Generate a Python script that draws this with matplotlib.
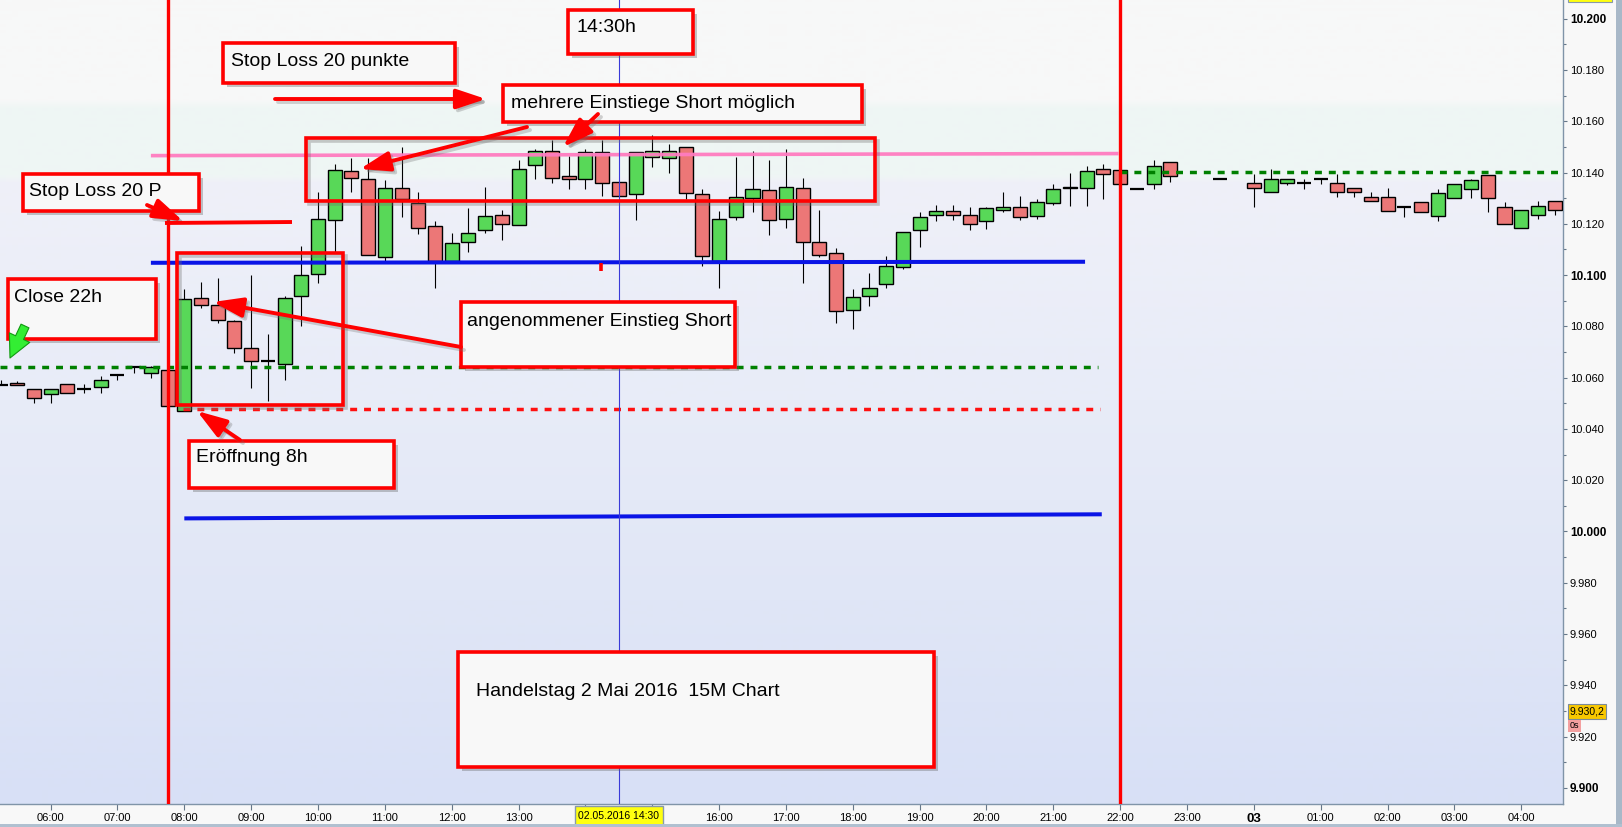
import numpy as np
import matplotlib
matplotlib.use('Agg')
import matplotlib.pyplot as plt
from matplotlib.patches import Rectangle, FancyArrowPatch
from matplotlib.colors import to_rgb
from matplotlib.ticker import FuncFormatter, MultipleLocator

plt.rcParams['font.family'] = ['Liberation Sans', 'DejaVu Sans']

# ---------------- data (15-minute candles, 2./3. May 2016) ----------------
times = ["05:15", "05:30", "05:45", "06:00", "06:15", "06:30", "06:45", "07:00", "07:15", "07:30",
         "07:45", "08:00", "08:15", "08:30", "08:45", "09:00", "09:15", "09:30", "09:45", "10:00",
         "10:15", "10:30", "10:45", "11:00", "11:15", "11:30", "11:45", "12:00", "12:15", "12:30",
         "12:45", "13:00", "13:15", "13:30", "13:45", "14:00", "14:15", "14:30", "14:45", "15:00",
         "15:15", "15:30", "15:45", "16:00", "16:15", "16:30", "16:45", "17:00", "17:15", "17:30",
         "17:45", "18:00", "18:15", "18:30", "18:45", "19:00", "19:15", "19:30", "19:45", "20:00",
         "20:15", "20:30", "20:45", "21:00", "21:15", "21:30", "21:45", "22:00", "22:15", "22:30",
         "22:45", "23:30", "00:00", "00:15", "00:30", "00:45", "01:00", "01:15", "01:30", "01:45",
         "02:00", "02:15", "02:30", "02:45", "03:00", "03:15", "03:30", "03:45", "04:00", "04:15",
         "04:30"]
opens = [10057, 10058, 10055.5, 10053.5, 10057.5, 10055.5, 10056.5, 10061, 10064, 10062,
         10063, 10047, 10091, 10088.5, 10082, 10071.5, 10066.5, 10065.5, 10092, 10100.5,
         10121.5, 10140.5, 10137.5, 10107, 10134, 10128, 10119, 10105.5, 10113, 10117.5,
         10123.5, 10119.5, 10143, 10148.5, 10138.5, 10137.5, 10148, 10136.5, 10131.5, 10146,
         10145.5, 10150, 10131.5, 10105.5, 10122.5, 10130, 10133, 10122, 10134, 10113,
         10108.5, 10086.5, 10092, 10096.5, 10103, 10117.5, 10123.5, 10125, 10123.5, 10121,
         10125.5, 10126.5, 10123, 10128, 10134, 10134, 10141.5, 10141, 10133.5, 10135.5,
         10144, 10137.5, 10136, 10132.5, 10136, 10136, 10137.5, 10136, 10134, 10130.5,
         10130.5, 10126.5, 10128.5, 10123, 10130, 10133.5, 10139, 10126.5, 10118.5, 10123.5,
         10129]
highs = [10059, 10058.5, 10055.5, 10055.5, 10057.5, 10057.5, 10060.5, 10061, 10064, 10064.5,
         10063.5, 10094.5, 10097.5, 10099, 10082.5, 10100, 10077, 10092, 10111.5, 10132.5,
         10143.5, 10145.5, 10145.5, 10137, 10150, 10132.5, 10121, 10116.5, 10126, 10134.5,
         10125.5, 10145, 10149, 10152.5, 10146.5, 10149, 10152.5, 10136.5, 10148, 10154.5,
         10151, 10150, 10133.5, 10125, 10146, 10148.5, 10145, 10149, 10138, 10125.5,
         10110.5, 10094.5, 10101, 10107.5, 10117, 10124.5, 10127.5, 10127.5, 10126.5, 10126.5,
         10132.5, 10131, 10129.5, 10135.5, 10140, 10142.5, 10143.5, 10141, 10133.5, 10145,
         10144, 10137.5, 10139.5, 10141.5, 10137.5, 10137.5, 10137.5, 10139.5, 10134, 10132.5,
         10134, 10126.5, 10128.5, 10133.5, 10135.5, 10137.5, 10139, 10128.5, 10125.5, 10129,
         10129]
lows = [10057, 10057, 10050, 10050, 10054, 10054, 10054, 10059, 10062, 10060,
        10048, 10047, 10087, 10081.5, 10069.5, 10056, 10051, 10059, 10080, 10097,
        10109, 10132.5, 10108, 10105.5, 10122.5, 10116, 10095, 10105, 10109, 10116.5,
        10113.5, 10119.5, 10137.5, 10136, 10133.5, 10133.5, 10131, 10131, 10121.5, 10142,
        10140, 10129.5, 10103.5, 10095, 10121.5, 10124.5, 10115.5, 10118.5, 10097, 10107,
        10081.5, 10079, 10088, 10095, 10102.5, 10111, 10121, 10121.5, 10117.5, 10118,
        10124.5, 10121.5, 10122, 10127.5, 10127, 10127, 10129.5, 10135.5, 10133.5, 10133.5,
        10136.5, 10137.5, 10126.5, 10132.5, 10135, 10133.5, 10135.5, 10130.5, 10130.5, 10129,
        10125, 10122.5, 10124.5, 10121, 10130, 10130, 10124.5, 10120, 10118.5, 10122,
        10123.5]
closes = [10057, 10057, 10052, 10055.5, 10054, 10055.5, 10059, 10061, 10064, 10064,
          10049, 10090.5, 10088.5, 10082.5, 10071.5, 10066.5, 10066.5, 10091, 10100, 10122,
          10141, 10138, 10108, 10134, 10129.5, 10118.5, 10105.5, 10112.5, 10116.5, 10123,
          10120, 10141.5, 10148.5, 10138, 10137.5, 10148, 10136, 10131, 10148, 10148.5,
          10148.5, 10132, 10107.5, 10122, 10130.5, 10133.5, 10121.5, 10134.5, 10113, 10108,
          10086, 10091.5, 10095, 10103.5, 10117, 10122.5, 10125, 10123.5, 10120, 10126,
          10126.5, 10122.5, 10128.5, 10133.5, 10134.5, 10140.5, 10139.5, 10135.5, 10133.5, 10142.5,
          10138.5, 10137.5, 10134, 10137.5, 10137.5, 10136, 10137.5, 10132.5, 10132.5, 10129,
          10125, 10126.5, 10124.5, 10132, 10135.5, 10137, 10130, 10120, 10125.5, 10127,
          10125.5]

tick_times = ["06:00", "07:00", "08:00", "09:00", "10:00", "11:00", "12:00", "13:00", "14:00",
              "15:00", "16:00", "17:00", "18:00", "19:00", "20:00", "21:00", "22:00", "23:00",
              "00:00", "01:00", "02:00", "03:00", "04:00"]
# 14:00 and 15:00 are hidden under the date marker in the original
tick_labels = ["06:00", "07:00", "08:00", "09:00", "10:00", "11:00", "12:00", "13:00", "",
               "", "16:00", "17:00", "18:00", "19:00", "20:00", "21:00", "22:00", "23:00",
               "03", "01:00", "02:00", "03:00", "04:00"]

# horizontal levels
level_stop_hi = (10146.6, 10147.4)   # pink
level_entry_hi = (10104.8, 10105.2)  # upper blue
level_entry_lo = (10005.1, 10006.7)  # lower blue
level_prev_close = 10064.0           # green dotted (Close 22h)
level_open_8h = 10047.6              # red dotted
level_close_22h = 10140.3            # green dotted right
last_price_label = "9.930,2"

# ---------------- helpers ----------------
def slot(t):
    h, m = map(int, t.split(':'))
    mins = h * 60 + m
    if h < 5:
        mins += 24 * 60
    return (mins - 360) / 15.0

W, H = 1622, 827
fig = plt.figure(figsize=(W / 100, H / 100), dpi=100)
fig.patch.set_facecolor('#F8F8F8')

ax_right_px, ax_bottom_px = 1563, 804
ax = fig.add_axes([0, (H - ax_bottom_px) / H, ax_right_px / W, ax_bottom_px / H])
XMIN, XMAX = -3.03, 90.5
YMIN, YMAX = 9893.7, 10207.3
ax.set_xlim(XMIN, XMAX)
ax.set_ylim(YMIN, YMAX)

# background gradient
stops_y = [0, 100, 108, 175, 182, 400, 600, 804]
stops_c = ['#F8F8F8', '#F7F8F8', '#EEF6F4', '#EFF6F5', '#EFF0F8', '#E8ECF8', '#E0E6F6', '#D8E0F6']
ys = np.arange(0, 805)
cols = np.array([to_rgb(c) for c in stops_c])
grad = np.stack([np.interp(ys, stops_y, cols[:, i]) for i in range(3)], axis=-1)[:, None, :]
ax.imshow(grad, extent=(0, 1, 0, 1), transform=ax.transAxes, aspect='auto', origin='upper', zorder=0)

# candles
bw = 0.84
green, red = '#58D858', '#EC7777'
for t, o, h, l, c in zip(times, opens, highs, lows, closes):
    x = slot(t)
    ax.vlines(x, l, h, color='black', lw=0.8, zorder=3)
    if abs(c - o) < 0.3:
        ax.hlines(o, x - bw / 2, x + bw / 2, color='black', lw=1.6, zorder=4)
    else:
        col = green if c > o else red
        ax.add_patch(Rectangle((x - bw / 2, min(o, c)), bw, abs(c - o), facecolor=col,
                               edgecolor='black', lw=1.0, zorder=4))

# level lines
ax.plot([6.0, 63.9], level_stop_hi, color='#FF7CC0', lw=2.6, alpha=0.95, zorder=5, solid_capstyle='butt')
ax.plot([6.0, 61.9], level_entry_hi, color='#0A14E6', lw=2.9, zorder=5, solid_capstyle='butt')
ax.plot([8.0, 62.9], level_entry_lo, color='#0A14E6', lw=2.9, zorder=5, solid_capstyle='butt')
ax.plot([XMIN, 62.7], [level_prev_close] * 2, color='#008000', lw=2.5, ls=(0, (2, 2)), zorder=5,
        dash_capstyle='butt')
ax.plot([64.0, XMAX], [level_close_22h] * 2, color='#008000', lw=2.5, ls=(0, (2, 2)), zorder=5,
        dash_capstyle='butt')
ax.plot([7.9, 62.8], [level_open_8h] * 2, color='#FF1010', lw=2.5, ls=(0, (2, 2)), zorder=5,
        dash_capstyle='butt')

# vertical session lines
ax.axvline(slot("07:45"), color='#FF0000', lw=2.4, zorder=6)
ax.axvline(slot("22:00"), color='#FF0000', lw=2.4, zorder=6)
ax.axvline(slot("14:30"), color='#3A3AD8', lw=0.8, zorder=6)
ax.plot([slot("14:15") - 0.07] * 2, [10101.6, 10104.6], color='#FF0000', lw=2.6, zorder=6,
        solid_capstyle='butt')

# axes styling
for s in ['left', 'top']:
    ax.spines[s].set_visible(False)
for s in ['right', 'bottom']:
    ax.spines[s].set_color('#8094A8')
    ax.spines[s].set_linewidth(1.0)
ax.yaxis.tick_right()
ax.set_yticks(np.arange(9900, 10201, 20))
ax.yaxis.set_minor_locator(MultipleLocator(10))
ax.yaxis.set_major_formatter(FuncFormatter(lambda v, p: f"{v / 1000:.3f}"))
ax.tick_params(axis='y', which='major', length=3, width=0.8, color='#667788', pad=2, labelsize=8)
ax.tick_params(axis='y', which='minor', length=2.2, width=0.8, color='#667788')
for lab, v in zip(ax.get_yticklabels(), np.arange(9900, 10201, 20)):
    if v % 100 == 0:
        lab.set_fontweight('bold')
        lab.set_fontsize(8.5)
ax.set_xticks([slot(t) for t in tick_times])
ax.set_xticklabels(tick_labels)
ax.tick_params(axis='x', length=4, width=0.8, color='#667788', pad=2.5, labelsize=8)
for lab, t in zip(ax.get_xticklabels(), tick_labels):
    if t == "03":
        lab.set_fontweight('bold')
        lab.set_fontsize(9.5)

# ---------------- overlay (pixel coordinates) ----------------
ov = fig.add_axes([0, 0, 1, 1], zorder=10)
ov.set_xlim(0, W)
ov.set_ylim(H, 0)
ov.axis('off')
ov.patch.set_visible(False)

def box(x0, y0, x1, y1, text, tx, ty, fs=14):
    ov.add_patch(Rectangle((x0 + 4, y0 + 4), x1 - x0, y1 - y0, facecolor='#606060', alpha=0.35,
                           edgecolor='none'))
    ov.add_patch(Rectangle((x0, y0), x1 - x0, y1 - y0, facecolor='#F8F8F8', edgecolor='#FF0000',
                           lw=2.6))
    ov.text(tx, ty, text, fontsize=fs, va='center', ha='left', color='black')

def frame(x0, y0, x1, y1):
    ov.add_patch(Rectangle((x0 + 3, y0 + 3), x1 - x0, y1 - y0, facecolor='none', edgecolor='#707070',
                           alpha=0.35, lw=2.6))
    ov.add_patch(Rectangle((x0, y0), x1 - x0, y1 - y0, facecolor='none', edgecolor='#FF0000', lw=2.6))

def arrow(p0, p1, color='#FF0000', lw=2.8, hl=0.9, hw=0.3, ms=20):
    ov.add_patch(FancyArrowPatch((p0[0] + 3, p0[1] + 3), (p1[0] + 3, p1[1] + 3),
                                 arrowstyle=f'-|>,head_length={hl},head_width={hw}',
                                 mutation_scale=ms, color='#707070', alpha=0.3, lw=lw,
                                 shrinkA=0, shrinkB=0))
    ov.add_patch(FancyArrowPatch(p0, p1, arrowstyle=f'-|>,head_length={hl},head_width={hw}',
                                 mutation_scale=ms, color=color, lw=lw, shrinkA=0, shrinkB=0))

frame(306, 137.5, 875, 201)
frame(177, 252.5, 343, 405)

box(568, 10, 693, 54, "14:30h", 577, 28)
box(223, 43, 455, 83, "Stop Loss 20 punkte", 231, 62)
box(503, 85, 862, 122, "mehrere Einstiege Short möglich", 511, 103)
box(23, 174, 199, 211, "Stop Loss 20 P", 29, 192)
box(8, 279, 156, 339, "Close 22h", 14, 297)
box(461, 302, 735, 367, "angenommener Einstieg Short", 467, 322)
box(189, 441, 394, 488, "Eröffnung 8h", 196, 458)
box(458, 652, 934, 767, "Handelstag 2 Mai 2016  15M Chart", 476, 691)

arrow((275, 99), (486, 99))
arrow((527, 127), (360, 169))
arrow((598, 114), (563, 147))
arrow((147, 205), (183, 221))
ov.plot([165, 292], [223, 222], color='#FF0000', lw=2.8, solid_capstyle='butt')
arrow((461, 347), (213, 302))
arrow((240, 440), (197, 411))
ov.add_patch(FancyArrowPatch((25, 326), (10, 358), arrowstyle='simple,head_length=0.9,head_width=0.9,tail_width=0.35',
                             mutation_scale=18, facecolor='#33EE33', edgecolor='#119911', lw=0.8,
                             shrinkA=0, shrinkB=0))

# x-axis date marker
ov.add_patch(Rectangle((575, 806), 88, 20, facecolor='#FFFF10', edgecolor='#8899AA', lw=1))
ov.text(619, 816, "02.05.2016 14:30", fontsize=7.5, ha='center', va='center')

# last price markers on the right axis
ov.add_patch(Rectangle((1568, 704), 38, 15, facecolor='#F8C800', edgecolor='#7A8A9A', lw=0.8))
ov.text(1587, 712, last_price_label, fontsize=7.5, ha='center', va='center')
ov.add_patch(Rectangle((1568, 720), 13, 12, facecolor='#F4A0A0', edgecolor='none'))
ov.text(1574.5, 726, "0s", fontsize=6.5, ha='center', va='center')
ov.add_patch(Rectangle((1568, -2), 44, 4, facecolor='#FFFF10', edgecolor='#8899AA', lw=0.8))

# window borders
ov.add_patch(Rectangle((1616, 0), 6, H, facecolor='#A8B8C8', edgecolor='none'))
ov.add_patch(Rectangle((0, 824), W, 3, facecolor='#B0C0D0', edgecolor='none'))

fig.savefig('out.png', dpi=100, facecolor=fig.get_facecolor())
